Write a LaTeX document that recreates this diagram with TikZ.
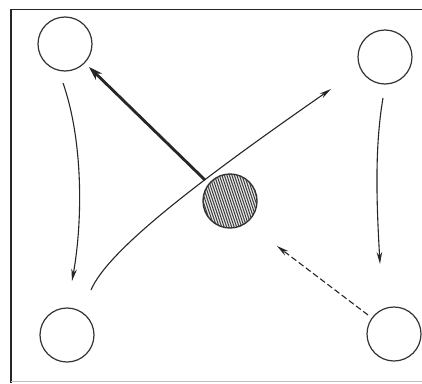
\documentclass[tikz,border=0pt]{standalone}
\usetikzlibrary{arrows.meta}
\begin{document}
\begin{tikzpicture}[x=1pt,y=-1pt,
  ring/.style={circle,draw=black!80,line width=1.2pt,minimum size=54pt,inner sep=0pt},
  flow/.style={line width=1.1pt,draw=black!85,-{Stealth[length=12pt,width=5.5pt]}},
  heavy/.style={line width=2.8pt,draw=black!85,-{Stealth[length=14pt,width=9pt]}},
  frame/.style={line width=1.3pt,draw=black!85}]
\useasboundingbox (0,0) rectangle (422,383);
\fill[white] (0,0) rectangle (422,383);
% frame
\draw[frame] (11,383) -- (11,9.5) -- (422,9.5);
\draw[line width=1pt,draw=black!25] (11,381) -- (422,381);
% circles
\node[ring] (tl) at (65,44) {};
\node[ring] (tr) at (385,57) {};
\node[ring] (bl) at (67,335) {};
\node[ring] (br) at (394,334) {};
\begin{scope}
\clip (230,201) circle (26.5pt);
\fill[black!8] (230,201) circle (27pt);
\foreach \i in {-42,-39.5,...,42}
  \draw[line width=1pt,black!75] (230+\i-10,171) -- (230+\i+10,231);
\end{scope}
\node[ring,line width=1.4pt] (c) at (230,201) {};
% endpoints
\coordinate (a1) at (63,83);
\coordinate (a2) at (72,281);
\coordinate (b1) at (383,98);
\coordinate (b2) at (380,264);
\coordinate (s1) at (91,290);
\coordinate (s2) at (331,89);
\coordinate (h1) at (205,180);
\coordinate (h2) at (89,67);
\coordinate (d1) at (368,315);
\coordinate (d2) at (277,246);
% connectors
\draw[flow] (a1) .. controls (83,140) and (83,220) .. (a2);
\draw[flow] (b1) .. controls (374,150) and (377,210) .. (b2);
\draw[flow] (s1) .. controls (108,250) and (200,180) .. (s2);
\draw[heavy] (h1) -- (h2);
\draw[flow,dash pattern=on 6pt off 3pt] (d1) -- (d2);
\end{tikzpicture}
\end{document}
